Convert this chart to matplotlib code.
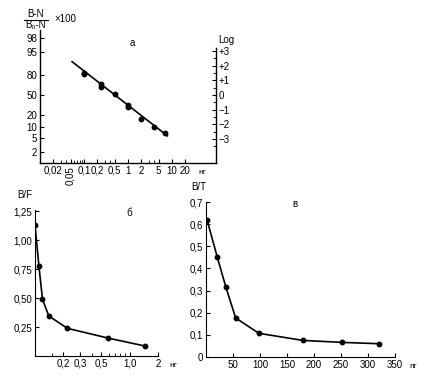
import numpy as np
import matplotlib
matplotlib.use("Agg")
import matplotlib.pyplot as plt
from matplotlib.lines import Line2D
from matplotlib.ticker import FixedLocator, NullFormatter

plt.rcParams['font.family'] = ['Liberation Sans', 'DejaVu Sans']
plt.rcParams['font.size'] = 7

# ---- data: panel a (logit plot) ----
a_x = [0.1, 0.1, 0.25, 0.25, 0.5, 1.0, 1.0, 2.0, 4.0, 6.8]
a_pct = [81.8, 80.7, 67.5, 63.9, 51.2, 33.6, 31.0, 16.2, 10.0, 6.8]
a_line_x = [0.054, 7.9]
a_line_logit = [2.27, -2.79]
a_xticks = [0.02, 0.05, 0.1, 0.2, 0.5, 1, 2, 5, 10, 20]
a_xticklabels = ['0,02', '0,05', '0,1', '0,2', '0,5', '1', '2', '5', '10', '20']
a_ypct_ticks = [2, 5, 10, 20, 50, 80, 95, 98]
a_log_ticks = [-3, -2, -1, 0, 1, 2, 3]
a_log_labels = ['−3', '−2', '−1', '0', '+1', '+2', '+3']

# ---- data: panel б ----
b_x = [0.1, 0.11, 0.12, 0.14, 0.22, 0.59, 1.46]
b_y = [1.13, 0.776, 0.49, 0.345, 0.239, 0.155, 0.086]
b_xticks = [0.2, 0.3, 0.5, 1.0, 2.0]
b_xticklabels = ['0,2', '0,3', '0,5', '1,0', '2']
b_yticks = [0.25, 0.50, 0.75, 1.00, 1.25]
b_yticklabels = ['0,25', '0,50', '0,75', '1,00', '1,25']

# ---- data: panel в ----
c_x = [2, 21, 37, 55, 98, 179, 252, 320]
c_y = [0.619, 0.45, 0.314, 0.176, 0.107, 0.075, 0.066, 0.060]
c_xticks = [50, 100, 150, 200, 250, 300, 350]
c_yticks = [0, 0.1, 0.2, 0.3, 0.4, 0.5, 0.6, 0.7]
c_yticklabels = ['0', '0,1', '0,2', '0,3', '0,4', '0,5', '0,6', '0,7']


def logit(p):
    p = np.asarray(p, dtype=float) / 100.0
    return np.log(p / (1 - p))


W, H = 421, 377
fig = plt.figure(figsize=(W / 100, H / 100), dpi=100)


def rect(l, t, r, b):
    return [l / W, 1 - b / H, (r - l) / W, (b - t) / H]


lw = 1.2
ms = 3.2

# ================= panel a =================
ax = fig.add_axes(rect(40, 30, 216, 163))
ax.set_xscale('log')
ax.set_xlim(0.0101, 100)
ax.set_ylim(-4.64, 4.43)
ax.plot(a_line_x, a_line_logit, color='black', lw=lw)
ax.plot(a_x, logit(a_pct), 'o', color='black', ms=ms)
ax.spines['top'].set_visible(False)
ax.spines['right'].set_visible(False)
for s in ax.spines.values():
    s.set_linewidth(1.0)
ax.xaxis.set_major_locator(FixedLocator(a_xticks))
ax.set_xticklabels(a_xticklabels)
ax.xaxis.set_minor_locator(FixedLocator([0.03, 0.04, 0.06, 0.07, 0.08, 0.09, 0.3, 0.4,
                                         3, 4]))
ax.xaxis.set_minor_formatter(NullFormatter())
for lab in ax.get_xticklabels():
    if lab.get_text() == '0,05':
        lab.set_rotation(90)
        lab.set_va('top')
ax.set_yticks(logit(a_ypct_ticks))
ax.set_yticklabels([str(v) for v in a_ypct_ticks])
ax.tick_params(direction='in', length=3, width=0.8, pad=2)
ax.tick_params(which='minor', direction='in', length=2, width=0.6)
ax.text(1.23, 3.54, 'а', ha='center', va='center', fontsize=7)
ax.annotate('нг', xy=(50, 0), xycoords=('data', 'axes fraction'), xytext=(0, -6.5),
            textcoords='offset points', ha='center', va='center', fontsize=6)

axr = ax.twinx()
axr.set_ylim(ax.get_ylim())
for k in ['top', 'left', 'bottom']:
    axr.spines[k].set_visible(False)
axr.spines['right'].set_bounds(-4.64, 3.2)
axr.spines['right'].set_linewidth(1.0)
axr.set_yticks(a_log_ticks)
axr.set_yticklabels(a_log_labels)
axr.yaxis.set_minor_locator(FixedLocator([-3.5, -2.5, -1.5, -0.5, 0.5, 1.5, 2.5]))
axr.tick_params(direction='in', length=3, width=0.8, pad=2)
axr.tick_params(which='minor', direction='in', length=2, width=0.6)
axr.text(1.06, 3.75, 'Log', transform=axr.get_yaxis_transform(), ha='center', va='center',
         fontsize=7)

# fraction label
fig.text(36 / W, 1 - 14 / H, 'B-N', ha='center', va='center', fontsize=7)
fig.text(36 / W, 1 - 25 / H, 'B₀-N', ha='center', va='center', fontsize=7)
fig.add_artist(Line2D([24 / W, 48 / W], [1 - 19.5 / H, 1 - 19.5 / H], color='black', lw=0.8))
fig.text(54 / W, 1 - 19 / H, '×100', ha='left', va='center', fontsize=7)

# ================= panel б =================
bx = fig.add_axes(rect(35, 210, 158, 356))
bx.set_xscale('log')
bx.set_xlim(0.1, 2.0)
bx.set_ylim(0, 1.26)
bx.plot(b_x, b_y, '-o', color='black', lw=lw, ms=ms)
bx.spines['top'].set_visible(False)
bx.spines['right'].set_visible(False)
bx.xaxis.set_major_locator(FixedLocator(b_xticks))
bx.set_xticklabels(b_xticklabels)
bx.xaxis.set_minor_locator(FixedLocator([0.15, 0.4, 0.6, 0.7, 0.8, 0.9]))
bx.xaxis.set_minor_formatter(NullFormatter())
bx.set_yticks(b_yticks)
bx.set_yticklabels(b_yticklabels)
bx.tick_params(direction='in', length=3, width=0.8, pad=2)
bx.tick_params(which='minor', direction='in', length=2, width=0.6)
bx.annotate('нг', xy=(2.9, 0), xycoords=('data', 'axes fraction'), xytext=(0, -6.5),
            textcoords='offset points', ha='center', va='center', fontsize=6)
bx.text(-0.08, 1.10, 'B/F', transform=bx.transAxes, ha='center', va='center', fontsize=7)
bx.text(1.0, 1.23, 'б', ha='center', va='center', fontsize=7)

# ================= panel в =================
cx = fig.add_axes(rect(206, 202, 395, 357))
cx.set_xlim(0, 350)
cx.set_ylim(0, 0.7)
cx.plot(c_x, c_y, '-o', color='black', lw=lw, ms=ms)
cx.spines['top'].set_visible(False)
cx.spines['right'].set_visible(False)
cx.set_xticks(c_xticks)
cx.set_xticklabels([str(v) for v in c_xticks])
cx.set_yticks(c_yticks)
cx.set_yticklabels(c_yticklabels)
cx.tick_params(direction='in', length=3, width=0.8, pad=2)
cx.annotate('пг', xy=(384, 0), xycoords=('data', 'axes fraction'), xytext=(0, -6.5),
            textcoords='offset points', ha='center', va='center', fontsize=6,
            annotation_clip=False)
cx.text(-0.04, 1.10, 'B/T', transform=cx.transAxes, ha='center', va='center', fontsize=7)
cx.text(165, 0.69, 'в', ha='center', va='center', fontsize=7)

fig.savefig('out.png', dpi=100)
